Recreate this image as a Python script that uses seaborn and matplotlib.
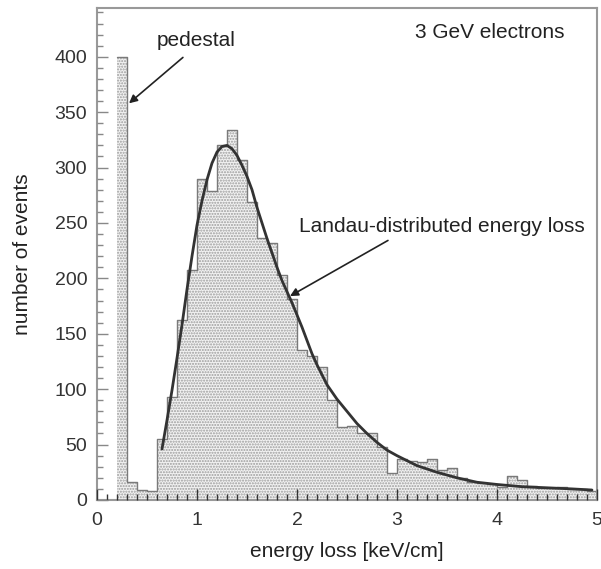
import numpy as np
import matplotlib
matplotlib.use("Agg")
import matplotlib.pyplot as plt
import seaborn as sns

sns.set_style("ticks")
plt.rcParams['font.family'] = ['Liberation Sans', 'DejaVu Sans']

# histogram: lower bin edges (0.1 wide) and counts
bin_lo = [0.2, 0.3, 0.4, 0.5, 0.6, 0.7, 0.8, 0.9, 1.0, 1.1, 1.2, 1.3, 1.4, 1.5,
          1.6, 1.7, 1.8, 1.9, 2.0, 2.1, 2.2, 2.3, 2.4, 2.5, 2.6, 2.7, 2.8, 2.9,
          3.0, 3.1, 3.2, 3.3, 3.4, 3.5, 3.6, 3.7, 3.8, 3.9, 4.0, 4.1, 4.2, 4.3,
          4.4, 4.5, 4.6, 4.7, 4.8, 4.9]
counts = [400, 16, 9, 8, 55, 93, 162, 208, 290, 279, 320, 334, 307, 269,
          236, 232, 203, 181, 135, 130, 120, 90, 66, 67, 60, 60, 48, 24,
          37, 35, 34, 37, 27, 29, 20, 16, 15, 14, 12, 22, 18, 13,
          11, 11, 12, 10, 10, 8]

# fitted Landau curve
curve_x = [0.65, 0.7, 0.75, 0.8, 0.85, 0.9, 0.95, 1.0, 1.05, 1.1, 1.15, 1.2,
           1.25, 1.3, 1.35, 1.4, 1.45, 1.5, 1.55, 1.6, 1.65, 1.7, 1.75, 1.8,
           1.85, 1.9, 1.95, 2.0, 2.05, 2.1, 2.15, 2.2, 2.3, 2.4, 2.5, 2.6,
           2.7, 2.8, 2.9, 3.0, 3.2, 3.4, 3.6, 3.8, 4.0, 4.25, 4.5, 4.75, 4.95]
curve_y = [46, 72, 99, 128, 158, 190, 220, 248, 270, 289, 304, 314,
           319, 320, 317, 311, 302, 292, 280, 264, 250, 236, 223, 210,
           198, 188, 178, 167, 156, 144, 132, 122, 104, 91, 80, 69,
           60, 52, 45, 40, 31, 25, 20, 16, 14, 12, 11, 10, 9]

bin_w = 0.1
edges = list(bin_lo) + [bin_lo[-1] + bin_w]
centers = [b + bin_w / 2 for b in bin_lo]

fig = plt.figure(figsize=(6.01, 5.69), dpi=100)
ax = fig.add_axes([0.1614, 0.1213, 0.8319, 0.8646])

# dotted fill, then the step outline on top
sns.histplot(x=centers, weights=counts, bins=edges, element="step", fill=True,
             facecolor="#f2f2f2", edgecolor="#9c9c9c", hatch="......",
             linewidth=0, alpha=1, ax=ax)
sns.histplot(x=centers, weights=counts, bins=edges, element="step", fill=False,
             color="#7a7a7a", linewidth=1.0, ax=ax)
sns.lineplot(x=curve_x, y=curve_y, color="#333333", linewidth=2.0, ax=ax)

ax.set_xlim(0, 5)
ax.set_ylim(0, 444)
ax.set_xticks([0, 1, 2, 3, 4, 5])
ax.set_xticks(np.arange(0, 5.01, 0.1), minor=True)
ax.set_yticks(np.arange(0, 401, 50))
ax.set_yticks(np.arange(0, 441, 10), minor=True)
ax.tick_params(which="both", direction="in", colors="#333333", labelsize=14,
               width=1.0)
ax.tick_params(which="major", length=8)
ax.tick_params(which="minor", length=4)
ax.tick_params(axis="x", pad=9)
ax.tick_params(axis="y", pad=7)
ax.tick_params(axis="y", which="both", color="#888888")
ax.set_axisbelow(False)
for s in ax.spines.values():
    s.set_color("#999999")
    s.set_linewidth(1.5)

ax.set_xlabel("energy loss [keV/cm]", fontsize=15, color="#222222", labelpad=9)
ax.set_ylabel("number of events", fontsize=15, color="#222222", labelpad=16)

ax.annotate("pedestal", xy=(0.32, 358), xytext=(0.99, 415), fontsize=15,
            ha="center", va="center", color="#222222",
            arrowprops=dict(arrowstyle="-|>", color="#222222", lw=1.2,
                            shrinkA=5, shrinkB=0, mutation_scale=12,
                            relpos=(0.45, 0)))
ax.text(3.18, 422, "3 GeV electrons", fontsize=15, ha="left", va="center",
        color="#222222")
ax.annotate("Landau-distributed energy loss", xy=(1.93, 184), xytext=(2.02, 247),
            fontsize=15, ha="left", va="center", color="#222222",
            arrowprops=dict(arrowstyle="-|>", color="#222222", lw=1.2,
                            shrinkA=2, shrinkB=0, mutation_scale=12,
                            relpos=(0.34, 0)))

fig.savefig("out.png", dpi=100)
